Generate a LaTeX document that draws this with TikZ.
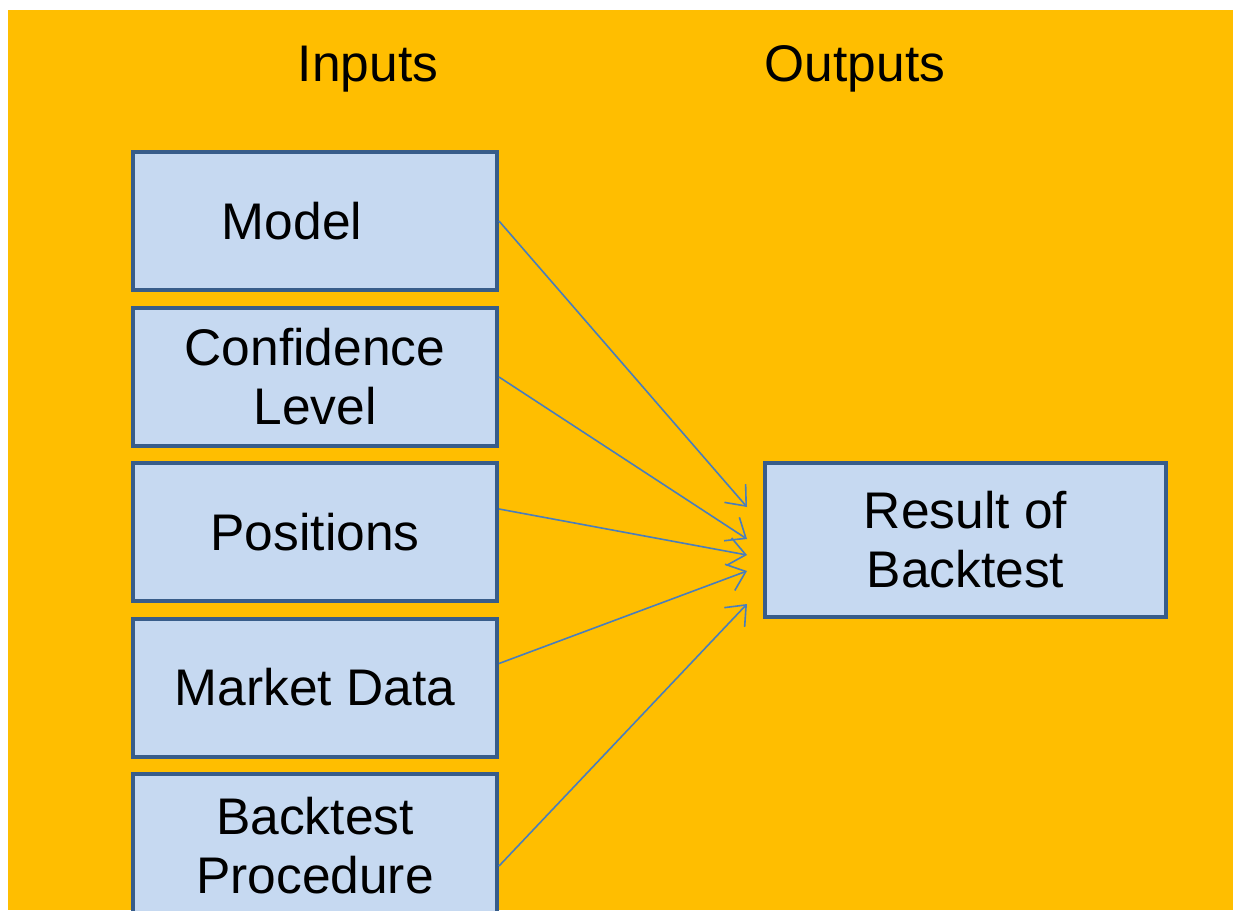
\documentclass[tikz,border=0pt]{standalone}
\usepackage{fontspec}
\setmainfont{Liberation Sans}
\usetikzlibrary{arrows.meta}
\definecolor{bgorange}{RGB}{255,190,0}
\definecolor{boxfill}{RGB}{198,217,241}
\definecolor{boxline}{RGB}{56,93,138}
\definecolor{arrowcol}{RGB}{74,126,187}
\begin{document}
\begin{tikzpicture}[x=1pt,y=-1pt,
  inbox/.style={draw=boxline, line width=4pt, fill=boxfill, minimum width=364pt, minimum height=138pt, inner sep=0pt, align=center, font=\fontsize{51.5}{59}\selectfont},
  outbox/.style={draw=boxline, line width=4pt, fill=boxfill, minimum width=401pt, minimum height=154pt, inner sep=0pt, align=center, font=\fontsize{51.5}{59}\selectfont},
  title/.style={font=\fontsize{51.5}{59}\selectfont, inner sep=0pt},
  conn/.style={draw=arrowcol, line width=1.6pt, -{Straight Barb[length=17pt,width=28pt,line width=1.6pt]}}]
\useasboundingbox (0,0) rectangle (1233,910);
\clip (0,0) rectangle (1233,910);
\fill[bgorange] (8,10) rectangle (1233,910);
\node[title] (inputs) at (368,69) {Inputs};
\node[title] (outputs) at (855,69) {Outputs};
\node[inbox] (model) at (315,221) {\hspace*{-46pt}Model};
\node[inbox] (conf) at (315,377) {Confidence\\Level};
\node[inbox] (pos) at (315,532) {Positions};
\node[inbox] (mkt) at (315,687.5) {Market Data};
\node[inbox, minimum height=144pt] (proc) at (315,846) {Backtest\\Procedure};
\node[outbox] (res) at (965.5,540) {Result of\\Backtest};
\coordinate (t1) at (747,507);
\coordinate (t2) at (747,539);
\coordinate (t3) at (747,555);
\coordinate (t4) at (747,571);
\coordinate (t5) at (747,604);
\draw[conn] (model.east) -- (t1);
\draw[conn] (conf.east) -- (t2);
\draw[conn] ([yshift=23pt]pos.east) -- (t3);
\draw[conn] ([yshift=24pt]mkt.east) -- (t4);
\draw[conn] ([yshift=-20pt]proc.east) -- (t5);
\end{tikzpicture}
\end{document}
